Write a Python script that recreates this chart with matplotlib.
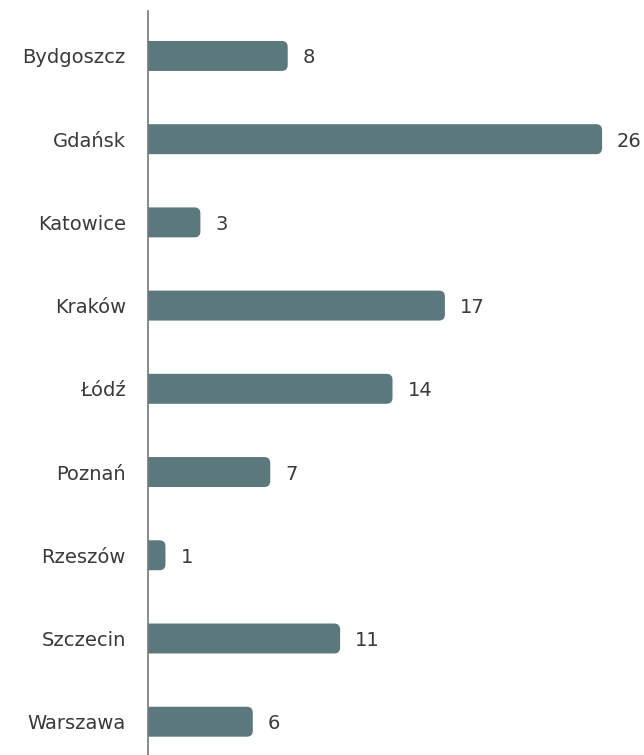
import matplotlib
matplotlib.use("Agg")
import matplotlib.pyplot as plt
from matplotlib.path import Path
from matplotlib.patches import PathPatch

cities = ["Bydgoszcz", "Gdańsk", "Katowice", "Kraków", "Łódź",
          "Poznań", "Rzeszów", "Szczecin", "Warszawa"]
counts = [8, 26, 3, 17, 14, 7, 1, 11, 6]

BAR_COLOR = "#5b787c"
TEXT_COLOR = "#3a3a3a"
FONT = ["DejaVu Sans"]

fig = plt.figure(figsize=(6.44, 7.55), dpi=100)
ax = fig.add_axes([148 / 644, 0.0, (644 - 148) / 644, (755 - 11) / 755])

ypos = list(range(len(cities)))
bars = ax.barh(ypos, counts, height=0.36, color=BAR_COLOR)

ax.set_xlim(0, 28.4)
ax.set_ylim(8.4, -0.54)

# Replace the square bars with ones whose right end is rounded
radius_px = 6.0
fig.canvas.draw()
inv = ax.transData.inverted()
(x0p, y0p), (x1p, y1p) = inv.transform([(0, 0), (radius_px, radius_px)])
rx = abs(x1p - x0p)
ry = abs(y1p - y0p)
for b in bars:
    x0, y0 = b.get_x(), b.get_y()
    w, h = b.get_width(), b.get_height()
    x1, y1 = x0 + w, y0 + h
    r_x = min(rx, w)
    verts = [(x0, y0), (x1 - r_x, y0), (x1, y0), (x1, y0 + ry),
             (x1, y1 - ry), (x1, y1), (x1 - r_x, y1), (x0, y1), (x0, y0)]
    codes = [Path.MOVETO, Path.LINETO, Path.CURVE3, Path.CURVE3,
             Path.LINETO, Path.CURVE3, Path.CURVE3, Path.LINETO, Path.CLOSEPOLY]
    ax.add_patch(PathPatch(Path(verts, codes), facecolor=BAR_COLOR,
                           edgecolor="none", zorder=2))
    b.set_visible(False)

for y, v in zip(ypos, counts):
    ax.annotate(str(v), xy=(v, y), xytext=(15, -2), textcoords="offset pixels",
                va="center", ha="left", fontsize=14, color=TEXT_COLOR,
                family=FONT)

ax.set_yticks(ypos)
ax.set_yticklabels(cities, fontsize=14, color=TEXT_COLOR, family=FONT)
ax.tick_params(axis="y", length=0, pad=16)
for lbl in ax.get_yticklabels():
    lbl.set_y(lbl.get_position()[1])
ax.set_xticks([])

for side in ["top", "right", "bottom"]:
    ax.spines[side].set_visible(False)
ax.spines["left"].set_color("#777777")
ax.spines["left"].set_linewidth(1.2)
ax.spines["left"].set_zorder(3)

fig.savefig("out.png", dpi=100)
